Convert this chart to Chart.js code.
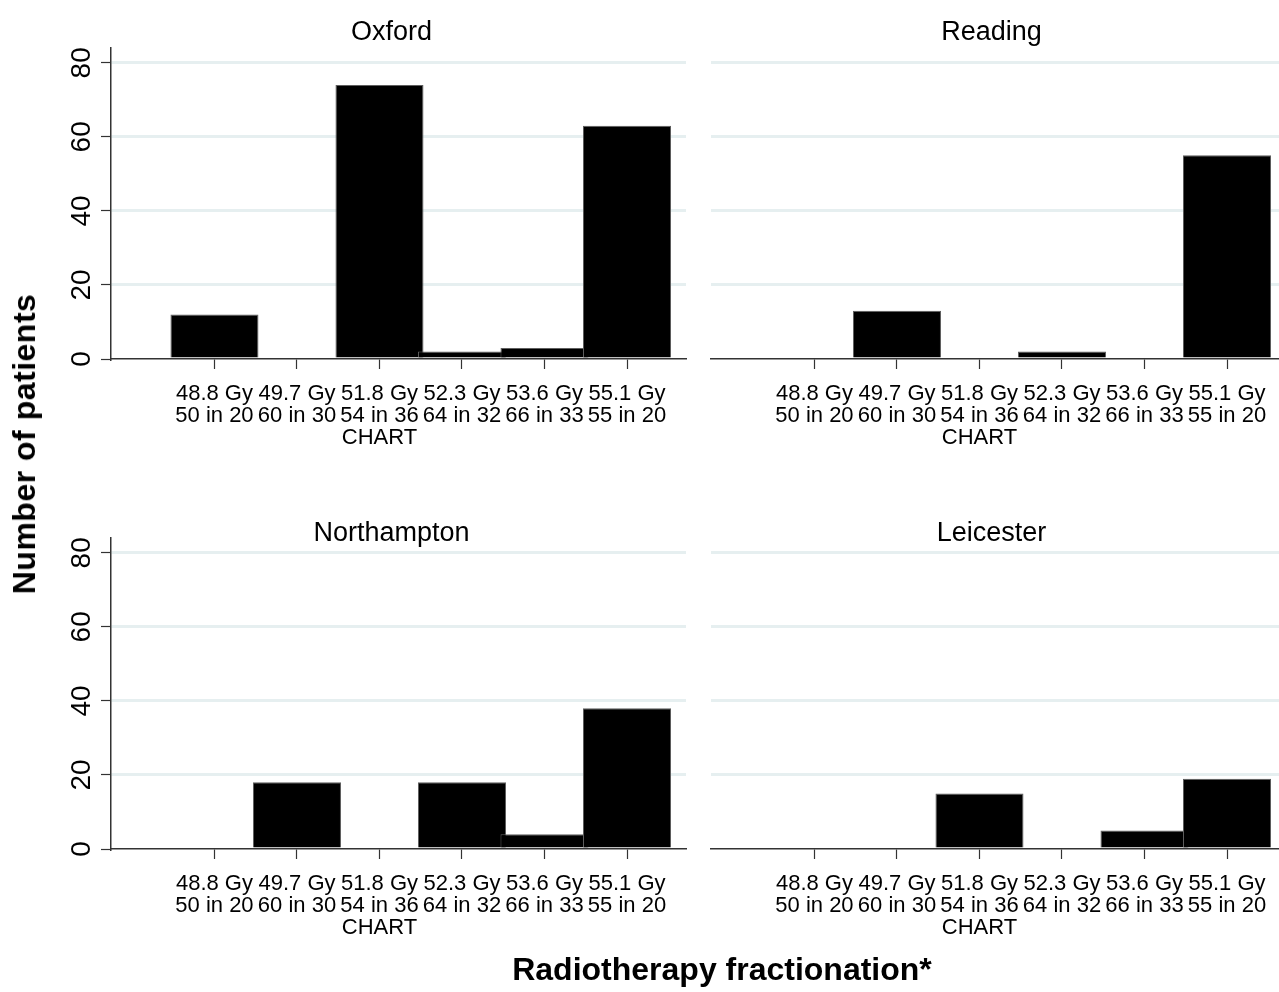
<!DOCTYPE html>
<html>
<head>
<meta charset="utf-8">
<title>Radiotherapy fractionation by centre</title>
<script src="https://cdn.jsdelivr.net/npm/chart.js@4.4.1/dist/chart.umd.min.js"></script>
<style>
  html, body { margin: 0; padding: 0; background: #fff; overflow: hidden; }
  #fig { position: relative; width: 1279px; height: 992px; overflow: hidden; background: #fff; }
  canvas.panel { position: absolute; }
  .axis-title {
    position: absolute;
    font-family: "Liberation Sans", Arial, Helvetica, sans-serif;
    font-weight: bold;
    font-size: 32px;
    line-height: 1;
    color: #000;
    white-space: nowrap;
  }
  #xtitle { left: 722px; top: 953px; transform: translateX(-50%); }
  #ytitle { left: 24px; top: 444px; transform: translate(-50%, -50%) rotate(-90deg); letter-spacing: 0.5px; }
</style>
</head>
<body>
<div id="fig">
  <canvas id="oxford" class="panel"></canvas>
  <canvas id="reading" class="panel"></canvas>
  <canvas id="northampton" class="panel"></canvas>
  <canvas id="leicester" class="panel"></canvas>
  <div id="ytitle" class="axis-title">Number of patients</div>
  <div id="xtitle" class="axis-title">Radiotherapy fractionation*</div>
</div>
<script>
// Fractionation schedules (x categories)
const doseLabels = ["48.8 Gy", "49.7 Gy", "51.8 Gy", "52.3 Gy", "53.6 Gy", "55.1 Gy"];
const scheduleLabels = ["50 in 20", "60 in 30", "54 in 36", "64 in 32", "66 in 33", "55 in 20"];
const scheduleNotes = ["", "", "CHART", "", "", ""];

// Number of patients per schedule, by centre
const oxfordPatients = [12, 0, 74, 2, 3, 63];
const readingPatients = [0, 13, 0, 2, 0, 55];
const northamptonPatients = [0, 18, 0, 18, 4, 38];
const leicesterPatients = [0, 0, 15, 0, 5, 19];

// Y axis ticks
const yTickValues = [0, 20, 40, 60, 80];

const FONT = '"Liberation Sans", Arial, Helvetica, sans-serif';
const AXIS_COLOR = '#333333';
const GRID_COLOR = '#e6eff0';

// Draws the centre name above each panel
const panelTitlePlugin = {
  id: 'panelTitle',
  afterDraw(chart, args, opts) {
    const { ctx, chartArea } = chart;
    ctx.save();
    ctx.font = '27px ' + FONT;
    ctx.fillStyle = '#000';
    ctx.textAlign = 'center';
    ctx.textBaseline = 'alphabetic';
    ctx.fillText(opts.text, (chartArea.left + chartArea.right) / 2 + opts.dx, opts.baseline);
    ctx.restore();
  }
};

function makePanel(id, title, counts, place) {
  const canvas = document.getElementById(id);
  canvas.width = place.width;
  canvas.height = place.height;
  canvas.style.left = place.left + 'px';
  canvas.style.top = place.top + 'px';

  return new Chart(canvas, {
    type: 'bar',
    data: {
      datasets: [{
        data: counts.map((v, i) => ({ x: i, y: v })),
        backgroundColor: '#000000',
        borderColor: '#5e5e5e',
        borderWidth: 1,
        barPercentage: 1.067,
        categoryPercentage: 1
      }]
    },
    plugins: [panelTitlePlugin],
    options: {
      responsive: false,
      animation: false,
      devicePixelRatio: 1,
      events: [],
      layout: { padding: { top: 48, right: 14, bottom: 0, left: 0 } },
      plugins: {
        legend: { display: false },
        tooltip: { enabled: false },
        title: { display: false },
        panelTitle: { text: title, dx: -7, baseline: place.titleBaseline }
      },
      scales: {
        x: {
          type: 'linear',
          offset: false,
          min: -1.254,
          max: 5.715,
          afterBuildTicks: s => { s.ticks = doseLabels.map((_, i) => ({ value: i })); },
          afterFit: s => { s.height = 131; },
          ticks: {
            autoSkip: false,
            minRotation: 0,
            maxRotation: 0,
            padding: 14,
            color: '#000',
            font: { family: FONT, size: 22, lineHeight: 1.0 },
            callback: v => {
              const i = Math.round(v);
              const lines = [doseLabels[i], scheduleLabels[i]];
              if (scheduleNotes[i]) lines.push(scheduleNotes[i]);
              return lines;
            }
          },
          grid: {
            offset: false,
            drawOnChartArea: false,
            drawTicks: true,
            tickLength: 10,
            tickColor: AXIS_COLOR,
            tickWidth: 1.2
          },
          border: { display: true, color: AXIS_COLOR, width: 1.5 }
        },
        y: {
          type: 'linear',
          min: 0,
          max: 84,
          afterBuildTicks: s => { s.ticks = yTickValues.map(v => ({ value: v })); },
          afterFit: s => { s.width = place.yWidth; },
          ticks: {
            display: place.showY,
            minRotation: 90,
            maxRotation: 90,
            crossAlign: 'center',
            padding: 3,
            color: '#000',
            font: { family: FONT, size: 28 }
          },
          grid: {
            color: c => (c.tick && c.tick.value === 0) ? 'rgba(0,0,0,0)' : GRID_COLOR,
            lineWidth: 3,
            drawTicks: place.showY,
            tickLength: 10,
            tickColor: AXIS_COLOR,
            tickWidth: 1.2
          },
          border: { display: place.showY, color: AXIS_COLOR, width: 1.5 }
        }
      }
    }
  });
}

makePanel('oxford', 'Oxford', oxfordPatients,
  { left: 0, top: 0, width: 700, height: 490, yWidth: 111, showY: true, titleBaseline: 39.5 });
makePanel('reading', 'Reading', readingPatients,
  { left: 700, top: 0, width: 600, height: 490, yWidth: 11, showY: false, titleBaseline: 39.5 });
makePanel('northampton', 'Northampton', northamptonPatients,
  { left: 0, top: 490, width: 700, height: 490, yWidth: 111, showY: true, titleBaseline: 50.5 });
makePanel('leicester', 'Leicester', leicesterPatients,
  { left: 700, top: 490, width: 600, height: 490, yWidth: 11, showY: false, titleBaseline: 50.5 });
</script>
</body>
</html>
